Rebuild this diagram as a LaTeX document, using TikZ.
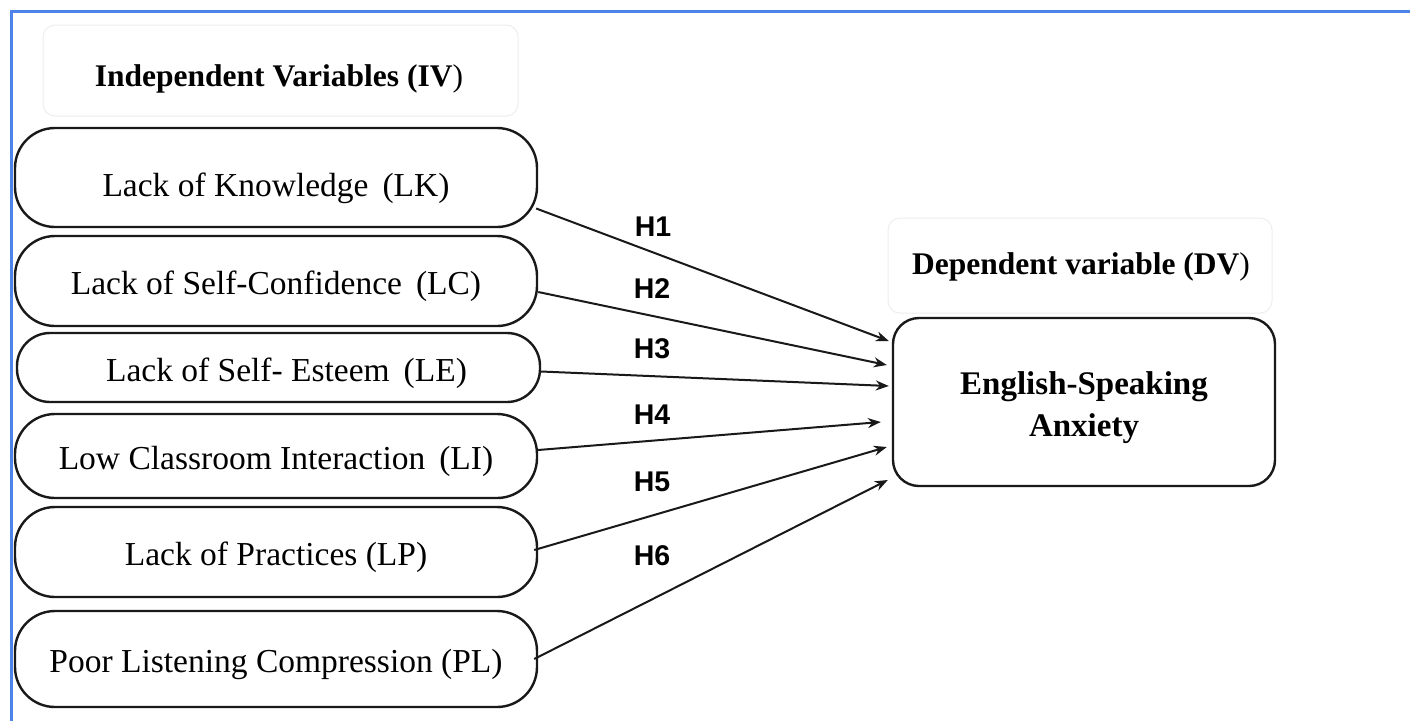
\documentclass[tikz,border=0pt]{standalone}
\usepackage{fontspec}
\setmainfont{Liberation Serif}
\newfontfamily\hfont{Liberation Sans}
\usetikzlibrary{arrows.meta}
\definecolor{frameblue}{RGB}{78,131,231}
\definecolor{hdrgray}{RGB}{238,238,238}
\definecolor{ink}{RGB}{25,25,25}
\tikzset{
  ivbox/.style={draw=ink, line width=2.4pt, rectangle, inner sep=0pt,
    minimum width=522pt, rounded corners=40pt,
    text height=30pt, text depth=3pt,
    font=\fontsize{33.5}{40}\selectfont},
  hdrbox/.style={draw=hdrgray, line width=1pt, rectangle, rounded corners=12pt, inner sep=0pt},
  hdrtext/.style={font=\fontsize{31.5}{36}\selectfont\bfseries, inner sep=0pt},
  hyp/.style={font=\hfont\bfseries\fontsize{28.5}{32}\selectfont, inner sep=0pt},
  link/.style={draw=ink, line width=2pt, -{Stealth[length=13pt,width=10pt]}}
}
\begin{document}
\begin{tikzpicture}[x=1pt,y=-1pt]
\useasboundingbox (0,0) rectangle (1410,721);
\fill[white] (0,0) rectangle (1410,721);
% blue frame
\draw[frameblue, line width=3pt] (1410,11) -- (11,11) -- (11,721);

% header boxes
\node[hdrbox, minimum width=475pt, minimum height=91pt] (ivhdr) at (280.5,70.5) {};
\node[hdrtext] (ivtitle) at (279,79) {Independent Variables (IV\textmd{)}};
\node[hdrbox, minimum width=384pt, minimum height=95pt] (dvhdr) at (1080,265.5) {};
\node[hdrtext] (dvtitle) at (1081,267) {Dependent variable (DV\textmd{)}};

% independent variable boxes
\node[ivbox, minimum height=99pt, text height=37pt, text depth=0pt] (lk) at (276,177.5) {Lack of Knowledge\, (LK)};
\node[ivbox, minimum height=90pt] (lc) at (276,281) {Lack of Self-Confidence\, (LC)};
\node[ivbox, minimum height=69pt, minimum width=523pt, rounded corners=33pt] (le) at (278.5,367.5) {\hspace*{16pt}Lack of Self- Esteem\, (LE)};
\node[ivbox, minimum height=84pt] (li) at (276,456) {Low Classroom Interaction\, (LI)};
\node[ivbox, minimum height=90pt] (lp) at (276,552) {Lack of Practices (LP)};
\node[ivbox, minimum height=96pt] (pl) at (276,659) {Poor Listening Compression (PL)};

% dependent variable box
\node[draw=ink, line width=2.4pt, rectangle, rounded corners=26pt, inner sep=0pt,
  minimum width=382pt, minimum height=168pt, align=center,
  font=\fontsize{33}{42}\selectfont\bfseries] (esa) at (1084,402)
  {\rule{0pt}{35pt}English-Speaking\\Anxiety};

% hypothesis arrows
\draw[link] ([yshift=-31pt,xshift=-2pt]lk.east) -- ([xshift=-3pt,yshift=61pt]esa.west);
\draw[link] ([yshift=-11pt]lc.east) -- ([xshift=-5pt,yshift=37pt]esa.west);
\draw[link] ([yshift=-4pt]le.east) -- ([xshift=-3pt,yshift=16pt]esa.west);
\draw[link] ([yshift=6pt]li.east) -- ([xshift=-11pt,yshift=-20pt]esa.west);
\draw[link] ([xshift=-4pt,yshift=2pt]lp.east) -- ([xshift=-5pt,yshift=-45pt]esa.west);
\draw[link] ([xshift=-4pt]pl.east) -- ([xshift=-4pt,yshift=-78pt]esa.west);

% hypothesis labels
\node[hyp] (h1) at (653,227) {H1};
\node[hyp] (h2) at (652,289) {H2};
\node[hyp] (h3) at (652,349) {H3};
\node[hyp] (h4) at (652,415) {H4};
\node[hyp] (h5) at (652,482) {H5};
\node[hyp] (h6) at (652,556) {H6};
\end{tikzpicture}
\end{document}
